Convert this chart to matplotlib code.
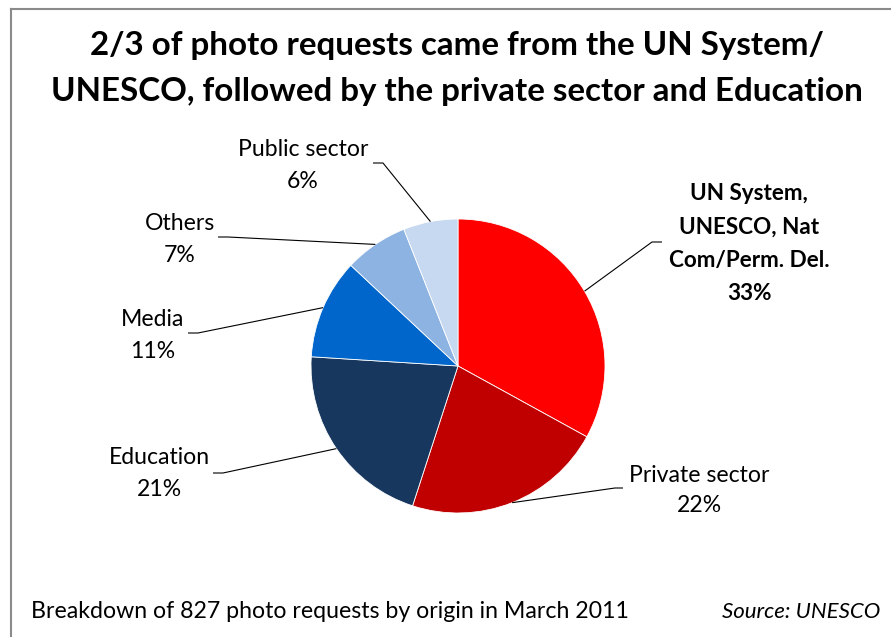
import numpy as np
import matplotlib
matplotlib.use("Agg")
import matplotlib.pyplot as plt
from matplotlib.lines import Line2D

# ---- data ----
categories = ["UN System,\nUNESCO, Nat\nCom/Perm. Del.", "Private sector", "Education",
              "Media", "Others", "Public sector"]
values = [33, 22, 21, 11, 7, 6]
colors = ["#FF0000", "#C00000", "#17375E", "#0066CC", "#8DB3E2", "#C6D9F1"]
title_lines = ["2/3 of photo requests came from the UN System/",
               "UNESCO, followed by the private sector and Education"]
footer_left = "Breakdown of 827 photo requests by origin in March 2011"
footer_right = "Source: UNESCO"

W, H = 891, 637
FONT = "Lato"
plt.rcParams['font.family'] = [FONT, 'DejaVu Sans']

fig = plt.figure(figsize=(W / 100, H / 100), dpi=100)
ax = fig.add_axes([0, 0, 1, 1])

CX, CY, R = 458.0, 366.0, 147.0  # pie center / radius in pixels


def px(x, y):
    """pixel (from top-left) -> data coords"""
    return (x - CX) / R, (CY - y) / R


wedges, _ = ax.pie(values, colors=colors, startangle=90, counterclock=False,
                   radius=1, center=(0, 0),
                   wedgeprops=dict(edgecolor="white", linewidth=0.6))
ax.set_xlim(-CX / R, (W - CX) / R)
ax.set_ylim((CY - H) / R, CY / R)
ax.set_aspect('auto')
ax.axis('off')

# label layout (pixel positions): line centers, leader end, elbow
layout = [
    dict(x=749, ys=[194, 227, 260, 293], end=(662, 242), elbow=(652, 242), bold=True),
    dict(x=699, ys=[475, 506], end=(623, 488), elbow=(615, 488), bold=False),
    dict(x=159, ys=[458, 490], end=(213, 473), elbow=(223, 473), bold=False),
    dict(x=153, ys=[319, 352], end=(188, 333), elbow=(198, 333), bold=False),
    dict(x=180, ys=[223, 255], end=(218, 237), elbow=(228, 237), bold=False),
    dict(x=303, ys=[149, 182], end=(373, 163), elbow=(383, 163), bold=False),
]

for w, cat, val, lay in zip(wedges, categories, values, layout):
    lines = cat.split("\n") + [f"{val}%"]
    for txt, y in zip(lines, lay["ys"]):
        xd, yd = px(lay["x"], y)
        ax.text(xd, yd, txt, ha="center", va="center",
                fontsize=16.2 if lay["bold"] else 16.6,
                fontweight="bold" if lay["bold"] else "normal", color="black")
    mid = np.deg2rad((w.theta1 + w.theta2) / 2)
    p0 = (np.cos(mid), np.sin(mid))
    p1 = px(*lay["elbow"])
    p2 = px(*lay["end"])
    ax.plot([p0[0], p1[0], p2[0]], [p0[1], p1[1], p2[1]], color="black", lw=0.8,
            solid_capstyle="butt")

# title
for txt, y in zip(title_lines, [46, 92]):
    fig.text(457 / W, 1 - y / H, txt, ha="center", va="center", fontsize=23.9,
             fontweight="bold", color="black")

# footer
fig.text(31 / W, 1 - 612 / H, footer_left, ha="left", va="center", fontsize=16.7)
fig.text(880 / W, 1 - 612 / H, footer_right, ha="right", va="center", fontsize=16,
         style="italic")

# chart-area border (left and top visible)
bx, by = 10.5, 8.5
fig.add_artist(Line2D([bx / W, bx / W], [0, 1 - by / H], transform=fig.transFigure,
                      color="#8A8A8A", lw=1.5))
fig.add_artist(Line2D([bx / W, 1], [1 - by / H, 1 - by / H], transform=fig.transFigure,
                      color="#8A8A8A", lw=1.5))

fig.savefig("out.png", dpi=100)
